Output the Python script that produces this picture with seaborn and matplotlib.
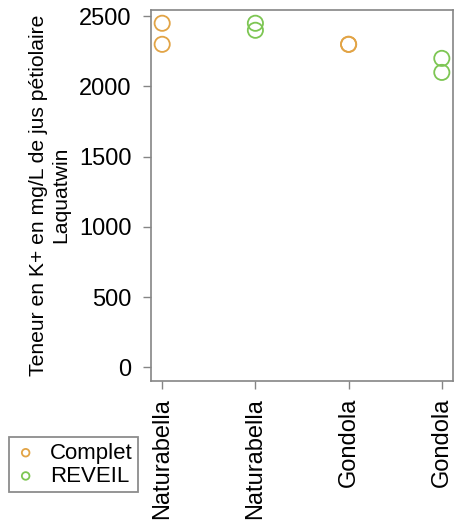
import matplotlib
matplotlib.use("Agg")
import matplotlib.pyplot as plt
import seaborn as sns
import pandas as pd

# Potassium content of petiole sap (Laquatwin), per variety and fertilisation programme
groupes = ["Naturabella", "Naturabella", "Gondola", "Gondola"]
programmes = ["Complet", "REVEIL", "Complet", "REVEIL"]
valeurs = [
    [2450, 2300],
    [2450, 2400],
    [2300, 2300],
    [2200, 2100],
]
couleurs = {"Complet": "#E2A446", "REVEIL": "#7DC653"}

rows = []
for pos, (g, p, vals) in enumerate(zip(groupes, programmes, valeurs)):
    for v in vals:
        rows.append({"pos": pos, "variete": g, "programme": p, "k": v})
df = pd.DataFrame(rows)

sns.set_theme(style="white")
plt.rcParams["font.family"] = ["Liberation Sans", "DejaVu Sans"]
plt.rcParams["text.color"] = "black"
plt.rcParams["axes.labelcolor"] = "black"

fig = plt.figure(figsize=(4.56, 5.22), dpi=100)
ax = fig.add_axes([151 / 456, 1 - 381 / 522, 302 / 456, 371.5 / 522])

for prog in ["Complet", "REVEIL"]:
    sub = df[df["programme"] == prog]
    sns.scatterplot(data=sub, x="pos", y="k", ax=ax, s=120,
                    facecolor="none", edgecolor=couleurs[prog],
                    linewidth=1.3, label=prog, legend=False)

ymax = 2450
ax.set_ylim(-0.04 * ymax, ymax * 1.04)
ax.set_xlim(-0.12, 3.12)
ax.set_xticks(range(len(groupes)))
ax.set_xticklabels(groupes, rotation=90, va="top", ha="center")
ax.set_yticks([0, 500, 1000, 1500, 2000, 2500])

ax.set_xlabel("")
ax.set_ylabel("Teneur en K+ en mg/L de jus pétiolaire\nLaquatwin",
              fontsize=15.2, linespacing=1.25, labelpad=6, color="black")

for s in ax.spines.values():
    s.set_color("#858585")
    s.set_linewidth(1.2)
ax.tick_params(axis="both", which="both", direction="out", length=6,
               width=1.0, color="#858585", labelsize=17, labelcolor="black",
               bottom=True, left=True)
ax.tick_params(axis="y", pad=8)
ax.tick_params(axis="x", pad=6)
ax.grid(False)

handles, labels = ax.get_legend_handles_labels()
leg = fig.legend(handles, labels, loc="upper left",
                 bbox_to_anchor=(9 / 456, 1 - 437 / 522),
                 bbox_transform=fig.transFigure, fontsize=16,
                 markerscale=0.5, frameon=True, fancybox=False,
                 edgecolor="#707070", handlelength=1.0, handletextpad=0.6,
                 borderpad=0.25, labelspacing=0.1, borderaxespad=0,
                 labelcolor="black")
leg.get_frame().set_linewidth(1.3)

fig.savefig("out.png", dpi=100)
